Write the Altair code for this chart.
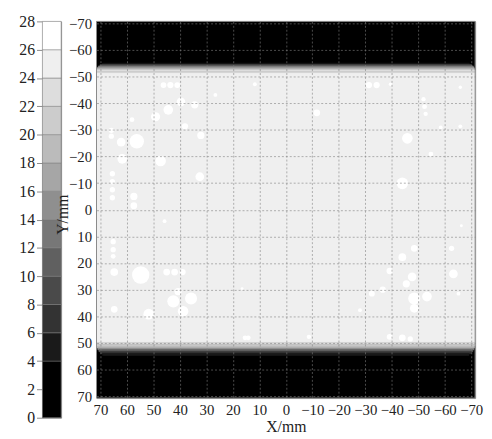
import altair as alt
import pandas as pd

FONT = "Liberation Serif"

# ---------------- legend (contour levels) ----------------
band_lo = [0, 4, 6, 8, 10, 12, 14, 16, 18, 20, 22, 24, 26]
band_hi = [4, 6, 8, 10, 12, 14, 16, 18, 20, 22, 24, 26, 28]
thresholds = [4, 6, 8, 10, 12, 14, 16, 18, 20, 22, 24, 26]
band_colors = ["#000000", "#1a1a1a", "#333333", "#4a4a4a", "#606060", "#777777",
               "#8f8f8f", "#a6a6a6", "#bbbbbb", "#cccccc", "#dddddd", "#efefef", "#ffffff"]
legend_ticks = list(range(0, 29, 2))

# ---------------- field ----------------
axis_ticks = [70, 60, 50, 40, 30, 20, 10, 0, -10, -20, -30, -40, -50, -60, -70]
x_extent = [71.5, -71.5]
y_extent = [-70.7, 70.7]
outer_value = 1
body_y = [-51.5, 49.8]
body_value = 25

# transition rows at the top edge of the light body (outer -> inner)
top_edges = [-55.0, -54.5, -54.0, -53.5, -53.0, -52.5, -52.0, -51.5]
top_values = [5, 8, 12, 16, 19, 22, 23.5]
top_half = [69.3, 70.2, 70.8, 71.1, 71.3, 71.5, 71.5]
# transition rows at the bottom edge (inner -> outer)
bottom_edges = [49.8, 50.5, 51.2, 51.9, 52.6, 53.3, 54.0, 54.7]
bottom_values = [23, 21, 18, 14, 10, 7, 5]
bottom_half = [71.5, 71.5, 71.3, 71.0, 70.6, 70.0, 69.2]

# white patches (value 26-28): centre x, centre y, radius (mm)
blob_x = [46.2, 43.6, 41.0, 26.6, 11.7, 49.2, 44.4, 39.6, 34.4, 38.1, 58.1, 32.1, 56.3,
          65.9, 65.9, 62.2, 61.8, 47.3, 32.5, 65.5, 65.5, 65.5, 65.5, 57.4, 57.4, 45.8,
          -31.4, -34.3, -39.5, -65.9, -11.7, -52.0, -52.4, -52.8, -58.5, -65.9, -45.9, -54.8, -44.0,
          65.2, 65.2, 65.2, 64.8, 54.8, 45.0, 42.0, 39.0, 42.5, 35.8, 38.8, 40.7, 51.8, 64.8,
          16.5, 14.2, 15.4,
          -66.3, -44.0, -48.5, -62.6, -39.2, -63.3, -32.5, -36.6, -47.7, -48.5, -53.3, -45.5,
          -48.5, -65.2, -28.0, -8.7, -39.2, -44.0, -47.0]
blob_y = [-46.8, -46.8, -46.8, -43.1, -47.1, -34.9, -37.5, -40.5, -39.4, -31.3, -33.8, -27.9, -25.7,
          -29.8, -27.6, -25.4, -19.1, -18.3, -12.4, -13.5, -10.5, -7.5, -4.5, -5.0, -1.5, 4.3,
          -46.8, -46.8, -47.1, -46.0, -36.4, -41.5, -38.7, -36.0, -30.9, -31.3, -26.8, -20.9, -9.9,
          12.0, 15.0, 17.5, 23.4, 24.5, 23.4, 23.4, 23.4, 34.4, 33.3, 38.1, 30.7, 39.2, 37.4,
          29.6, 48.1, 48.1,
          6.0, 17.8, 14.5, 14.5, 23.0, 24.1, 31.5, 30.0, 25.2, 33.3, 32.6, 27.8,
          37.0, 31.5, 37.7, 47.7, 47.7, 48.1, 48.5]
blob_r = [1.2, 1.3, 1.2, 0.8, 0.8, 1.9, 2.0, 1.8, 1.5, 1.3, 1.0, 1.5, 3.0,
          1.1, 1.1, 1.8, 2.0, 2.2, 1.8, 1.1, 1.1, 1.1, 1.1, 1.5, 1.4, 0.8,
          1.3, 1.3, 0.7, 0.7, 1.4, 0.9, 1.0, 0.9, 0.8, 0.8, 2.2, 1.0, 2.4,
          1.1, 1.1, 1.0, 1.6, 3.6, 1.4, 1.4, 1.3, 2.5, 2.5, 2.2, 1.5, 2.2, 1.4,
          0.6, 1.0, 1.0,
          0.6, 1.6, 1.4, 1.1, 1.3, 1.8, 1.2, 1.3, 1.8, 2.5, 2.0, 1.5,
          1.8, 0.8, 0.8, 0.9, 1.2, 1.4, 1.1]
blob_value = 27

color_scale = alt.Scale(type="threshold", domain=thresholds, range=band_colors)

# ---------------- legend chart ----------------
legend_df = pd.DataFrame({
    "lo": band_lo, "hi": band_hi,
    "mid": [(a + b) / 2 for a, b in zip(band_lo, band_hi)],
})
legend_chart = alt.Chart(legend_df).mark_rect(stroke="#7a7a7a", strokeWidth=0.5).encode(
    y=alt.Y("lo:Q", scale=alt.Scale(domain=[0, 28], nice=False, zero=False),
            axis=alt.Axis(values=legend_ticks, title=None, grid=False, domain=False,
                          tickSize=6, tickColor="#8a8a8a", labelFontSize=16,
                          labelFont=FONT, labelPadding=2, labelColor="#222222")),
    y2="hi:Q",
    color=alt.Color("mid:Q", scale=color_scale, legend=None),
).properties(width=19, height=403)

# ---------------- field chart ----------------
xs = alt.Scale(domain=x_extent, nice=False, zero=False)
ys = alt.Scale(domain=[y_extent[1], y_extent[0]], nice=False, zero=False)

xaxis = alt.Axis(values=axis_ticks, title="X/mm", format="d", labelOverlap=False,
                 labelFlush=True, labelFont=FONT, titleFont=FONT,
                 labelFontSize=15, titleFontSize=16, titleFontWeight="normal",
                 ticks=False, tickSize=0, domain=False, labelPadding=5, titlePadding=1,
                 grid=True, gridDash=[2, 2], gridColor="#808080", gridOpacity=0.6,
                 labelColor="#222222", titleColor="#222222", zindex=1)
yaxis = alt.Axis(values=axis_ticks, title="Y/mm", format="d", labelOverlap=False,
                 labelFont=FONT, titleFont=FONT,
                 labelFontSize=15, titleFontSize=16, titleFontWeight="normal",
                 ticks=False, tickSize=0, domain=False, labelPadding=5,
                 titleAngle=270, titleX=-34, titleY=196, titleAlign="center",
                 titleBaseline="middle",
                 grid=True, gridDash=[2, 2], gridColor="#808080", gridOpacity=0.6,
                 labelColor="#222222", titleColor="#222222", zindex=1)

bg_df = pd.DataFrame({"x1": [x_extent[0]], "x2": [x_extent[1]],
                      "y1": [y_extent[0]], "y2": [y_extent[1]], "value": [outer_value]})

rows = []
rows.append({"x1": x_extent[0], "x2": x_extent[1], "y1": body_y[0], "y2": body_y[1],
             "value": body_value})
for i, v in enumerate(top_values):
    rows.append({"x1": top_half[i], "x2": -top_half[i], "y1": top_edges[i],
                 "y2": top_edges[i + 1], "value": v})
for i, v in enumerate(bottom_values):
    rows.append({"x1": bottom_half[i], "x2": -bottom_half[i], "y1": bottom_edges[i],
                 "y2": bottom_edges[i + 1], "value": v})
rows_df = pd.DataFrame(rows)

blob_df = pd.DataFrame({"x": blob_x, "y": blob_y, "r": blob_r,
                        "value": [blob_value] * len(blob_x)})

bg = alt.Chart(bg_df).mark_rect().encode(
    x=alt.X("x1:Q", scale=xs, axis=xaxis), x2="x2:Q",
    y=alt.Y("y1:Q", scale=ys, axis=yaxis), y2="y2:Q",
    color=alt.Color("value:Q", scale=color_scale, legend=None),
)
body = alt.Chart(rows_df).mark_rect(strokeWidth=0.6).encode(
    x=alt.X("x1:Q", scale=xs, axis=xaxis), x2="x2:Q",
    y=alt.Y("y1:Q", scale=ys, axis=yaxis), y2="y2:Q",
    color=alt.Color("value:Q", scale=color_scale, legend=None),
    stroke=alt.Stroke("value:Q", scale=color_scale, legend=None),
)
blobs = alt.Chart(blob_df).transform_calculate(area="datum.r * datum.r").mark_circle(
    opacity=1).encode(
    x=alt.X("x:Q", scale=xs, axis=xaxis), y=alt.Y("y:Q", scale=ys, axis=yaxis),
    size=alt.Size("area:Q", scale=alt.Scale(domain=[0, 10], range=[0, 240]), legend=None),
    color=alt.Color("value:Q", scale=color_scale, legend=None),
)
frame = alt.Chart(bg_df).mark_rect(fillOpacity=0, stroke="#8a8a8a", strokeWidth=1).encode(
    x=alt.X("x1:Q", scale=xs, axis=xaxis), x2="x2:Q",
    y=alt.Y("y1:Q", scale=ys, axis=yaxis), y2="y2:Q",
)

field = alt.layer(bg, body, blobs, frame).properties(width=385, height=383)

chart = alt.hconcat(legend_chart, field, spacing=36, bounds="flush").properties(
    padding={"left": 10, "top": 1, "right": 0, "bottom": 0},
    background="white",
).configure_view(stroke="#8a8a8a", strokeWidth=1).configure_axis(
    labelFont=FONT, titleFont=FONT
)

chart.save("out.html", embed_options={"renderer": "svg", "actions": False})
